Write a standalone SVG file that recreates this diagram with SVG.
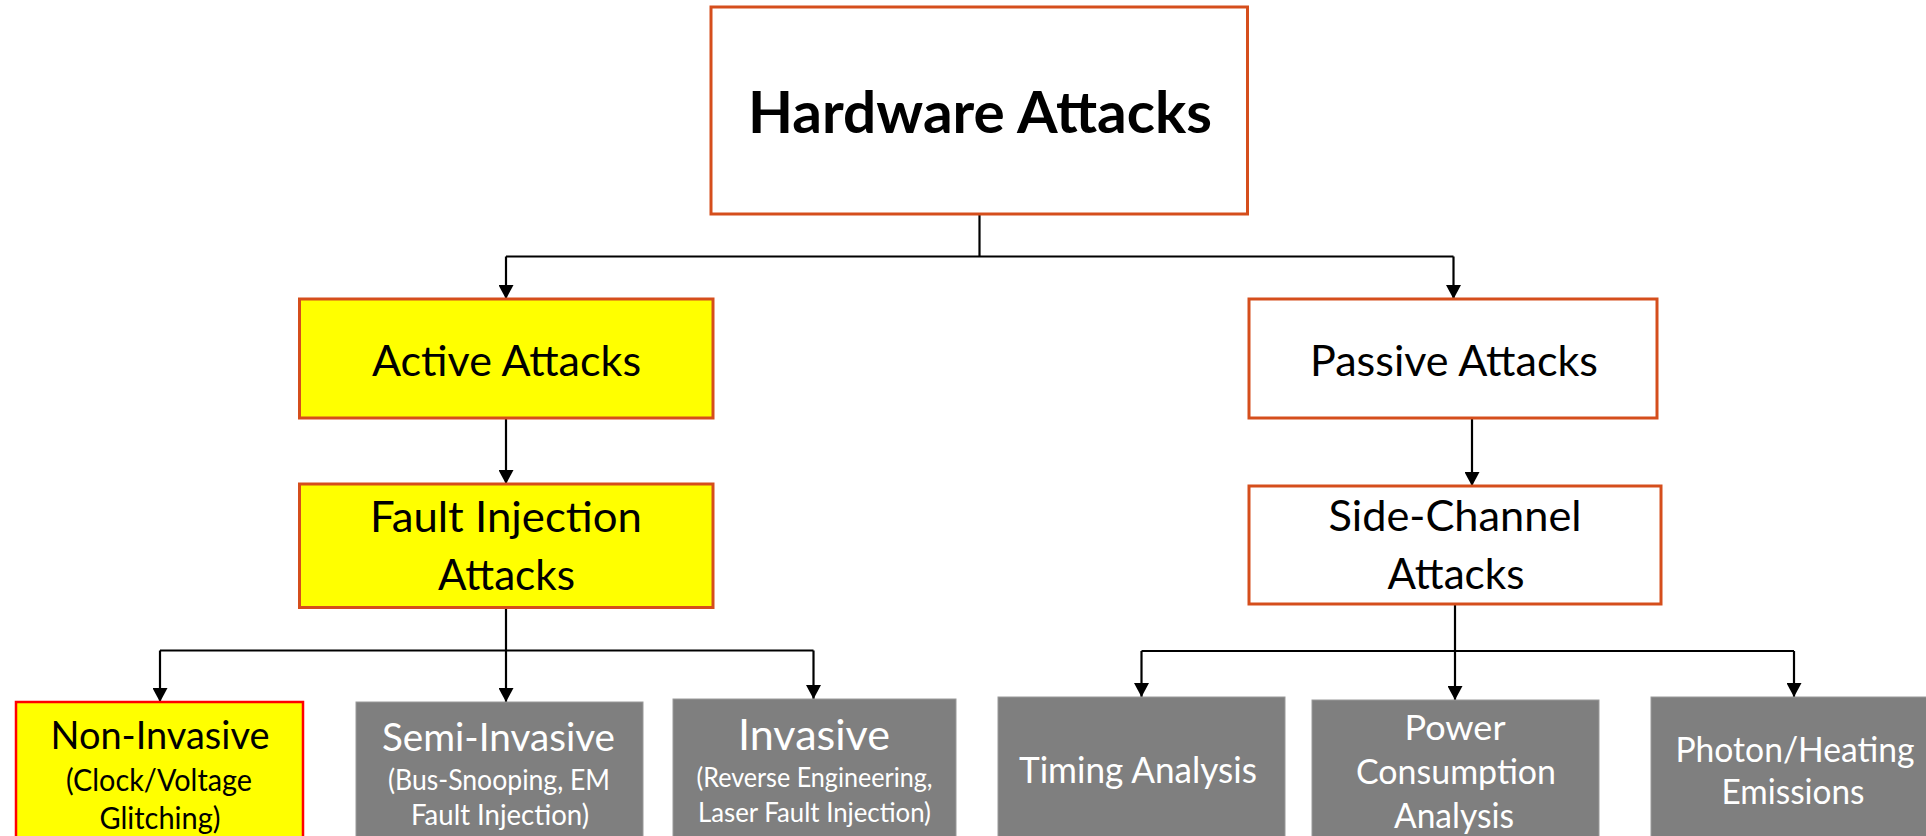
<svg xmlns="http://www.w3.org/2000/svg" width="1926" height="836" viewBox="0 0 1926 836">
  <defs>
    <marker id="arrow" viewBox="0 0 14 15" refX="14" refY="7.5" markerWidth="14" markerHeight="15" markerUnits="userSpaceOnUse" orient="auto">
      <path d="M0,0 L14,7.5 L0,15 z" fill="#000"/>
    </marker>
    <style>
      .lbl { font-family: Lato, "Open Sans", "Liberation Sans", sans-serif; text-anchor: middle; }
      .dark { fill: #000; }
      .light { fill: #fff; }
      .box-main { fill: #fff; stroke: #D54E1C; stroke-width: 3; }
      .box-hot { fill: #FFFF00; stroke: #D54E1C; stroke-width: 3; }
      .box-sel { fill: #FFFF00; stroke: #FF0000; stroke-width: 2.5; }
      .box-leaf { fill: #7F7F7F; stroke: #9A9A9A; stroke-width: 1; }
      .wire { fill: none; stroke: #000; stroke-width: 2.2; }
    </style>
  </defs>

  <rect width="1926" height="836" fill="#fff"/>

  <!-- connectors -->
  <g id="connectors">
    <path class="wire" d="M979.5,214 V256.5"/>
    <path class="wire" d="M506,256.5 H1453.5"/>
    <path class="wire" d="M506,256.5 V299" marker-end="url(#arrow)"/>
    <path class="wire" d="M1453.5,256.5 V299" marker-end="url(#arrow)"/>

    <path class="wire" d="M506,418 V484" marker-end="url(#arrow)"/>
    <path class="wire" d="M1472,418 V486" marker-end="url(#arrow)"/>

    <path class="wire" d="M506,607.5 V650.5"/>
    <path class="wire" d="M160,650.5 H813.5"/>
    <path class="wire" d="M160,650.5 V702" marker-end="url(#arrow)"/>
    <path class="wire" d="M506,650.5 V702" marker-end="url(#arrow)"/>
    <path class="wire" d="M813.5,650.5 V699" marker-end="url(#arrow)"/>

    <path class="wire" d="M1455,604 V651"/>
    <path class="wire" d="M1141.5,651 H1794"/>
    <path class="wire" d="M1141.5,651 V697" marker-end="url(#arrow)"/>
    <path class="wire" d="M1455,651 V700" marker-end="url(#arrow)"/>
    <path class="wire" d="M1794,651 V697" marker-end="url(#arrow)"/>
  </g>

  <!-- root -->
  <g id="hardware-attacks">
    <rect class="box-main" x="711" y="7" width="536.5" height="207"/>
    <text class="lbl dark" x="980" y="133" font-size="58" font-weight="bold" textLength="464" lengthAdjust="spacingAndGlyphs">Hardware Attacks</text>
  </g>

  <!-- second level -->
  <g id="active-attacks">
    <rect class="box-hot" x="299.5" y="299" width="413.5" height="119"/>
    <text class="lbl dark" x="506.5" y="376" font-size="43" textLength="269" lengthAdjust="spacingAndGlyphs">Active Attacks</text>
  </g>

  <g id="passive-attacks">
    <rect class="box-main" x="1249" y="299" width="408" height="119"/>
    <text class="lbl dark" x="1454" y="376" font-size="43" textLength="288" lengthAdjust="spacingAndGlyphs">Passive Attacks</text>
  </g>

  <!-- third level -->
  <g id="fault-injection">
    <rect class="box-hot" x="299.5" y="484" width="413.5" height="123.5"/>
    <text class="lbl dark" x="506" y="532" font-size="43" textLength="272" lengthAdjust="spacingAndGlyphs">Fault Injection</text>
    <text class="lbl dark" x="506.5" y="590" font-size="43" textLength="137" lengthAdjust="spacingAndGlyphs">Attacks</text>
  </g>

  <g id="side-channel">
    <rect class="box-main" x="1249" y="486" width="412" height="118"/>
    <text class="lbl dark" x="1455" y="531" font-size="43" textLength="253" lengthAdjust="spacingAndGlyphs">Side-Channel</text>
    <text class="lbl dark" x="1456" y="589" font-size="43" textLength="137" lengthAdjust="spacingAndGlyphs">Attacks</text>
  </g>

  <!-- fault injection leaves -->
  <g id="non-invasive">
    <rect class="box-sel" x="16" y="702" width="287" height="150"/>
    <text class="lbl dark" x="160" y="749" font-size="38" textLength="219" lengthAdjust="spacingAndGlyphs">Non-Invasive</text>
    <text class="lbl dark" x="159" y="791" font-size="30" textLength="186" lengthAdjust="spacingAndGlyphs">(Clock/Voltage</text>
    <text class="lbl dark" x="160" y="829" font-size="30" textLength="121" lengthAdjust="spacingAndGlyphs">Glitching)</text>
  </g>

  <g id="semi-invasive">
    <rect class="box-leaf" x="356" y="702" width="287" height="150"/>
    <text class="lbl light" x="498.5" y="751" font-size="39" textLength="233" lengthAdjust="spacingAndGlyphs">Semi-Invasive</text>
    <text class="lbl light" x="499" y="790" font-size="28" textLength="222" lengthAdjust="spacingAndGlyphs">(Bus-Snooping, EM</text>
    <text class="lbl light" x="500" y="825" font-size="28" textLength="178" lengthAdjust="spacingAndGlyphs">Fault Injection)</text>
  </g>

  <g id="invasive">
    <rect class="box-leaf" x="673" y="699" width="283" height="150"/>
    <text class="lbl light" x="814" y="750" font-size="43" textLength="152" lengthAdjust="spacingAndGlyphs">Invasive</text>
    <text class="lbl light" x="814.5" y="787" font-size="26" textLength="236" lengthAdjust="spacingAndGlyphs">(Reverse Engineering,</text>
    <text class="lbl light" x="814.5" y="822" font-size="26" textLength="233" lengthAdjust="spacingAndGlyphs">Laser Fault Injection)</text>
  </g>

  <!-- side-channel leaves -->
  <g id="timing-analysis">
    <rect class="box-leaf" x="998" y="697" width="287" height="150"/>
    <text class="lbl light" x="1138" y="783" font-size="36" textLength="238" lengthAdjust="spacingAndGlyphs">Timing Analysis</text>
  </g>

  <g id="power-consumption">
    <rect class="box-leaf" x="1312" y="700" width="287" height="150"/>
    <text class="lbl light" x="1455" y="740" font-size="35" textLength="101" lengthAdjust="spacingAndGlyphs">Power</text>
    <text class="lbl light" x="1456" y="784" font-size="35" textLength="200" lengthAdjust="spacingAndGlyphs">Consumption</text>
    <text class="lbl light" x="1454" y="828" font-size="35" textLength="120" lengthAdjust="spacingAndGlyphs">Analysis</text>
  </g>

  <g id="photon-heating">
    <rect class="box-leaf" x="1651" y="697" width="287" height="150"/>
    <text class="lbl light" x="1795" y="762" font-size="35" textLength="239" lengthAdjust="spacingAndGlyphs">Photon/Heating</text>
    <text class="lbl light" x="1793" y="804" font-size="35" textLength="143" lengthAdjust="spacingAndGlyphs">Emissions</text>
  </g>
</svg>
